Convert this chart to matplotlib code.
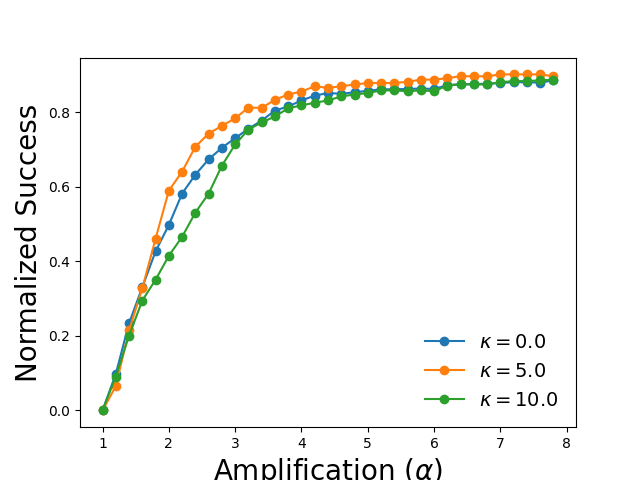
import numpy as np
import matplotlib
matplotlib.use("Agg")
import matplotlib.pyplot as plt

alpha = np.round(np.arange(1.0, 7.81, 0.2), 1)

kappa_labels = [r"$\kappa=0.0$", r"$\kappa=5.0$", r"$\kappa=10.0$"]

success_k0 = [0.000, 0.098, 0.234, 0.331, 0.427, 0.498, 0.582, 0.633, 0.674, 0.705,
              0.731, 0.756, 0.778, 0.805, 0.816, 0.832, 0.845, 0.852, 0.850, 0.854,
              0.858, 0.862, 0.862, 0.863, 0.864, 0.863, 0.873, 0.876, 0.876, 0.877,
              0.879, 0.881, 0.881, 0.880, 0.886]
success_k5 = [0.000, 0.065, 0.215, 0.328, 0.461, 0.590, 0.641, 0.708, 0.743, 0.764,
              0.784, 0.813, 0.812, 0.834, 0.848, 0.856, 0.870, 0.866, 0.870, 0.875,
              0.879, 0.879, 0.879, 0.882, 0.888, 0.888, 0.892, 0.897, 0.897, 0.897,
              0.902, 0.902, 0.902, 0.902, 0.897]
success_k10 = [0.000, 0.091, 0.201, 0.295, 0.351, 0.415, 0.466, 0.531, 0.582, 0.657,
               0.714, 0.754, 0.773, 0.789, 0.811, 0.819, 0.826, 0.832, 0.843, 0.848,
               0.852, 0.859, 0.859, 0.857, 0.859, 0.857, 0.872, 0.875, 0.875, 0.875,
               0.881, 0.884, 0.884, 0.886, 0.888]

fig, ax = plt.subplots(figsize=(6.4, 4.8), dpi=100)
for vals, lab in zip([success_k0, success_k5, success_k10], kappa_labels):
    ax.plot(alpha, vals, marker="o", label=lab)

ax.set_xlabel(r"Amplification ($\alpha$)", fontsize=20)
ax.set_ylabel("Normalized Success", fontsize=20)
ax.legend(loc="lower right", frameon=False, fontsize=14)

fig.savefig("out.png")
